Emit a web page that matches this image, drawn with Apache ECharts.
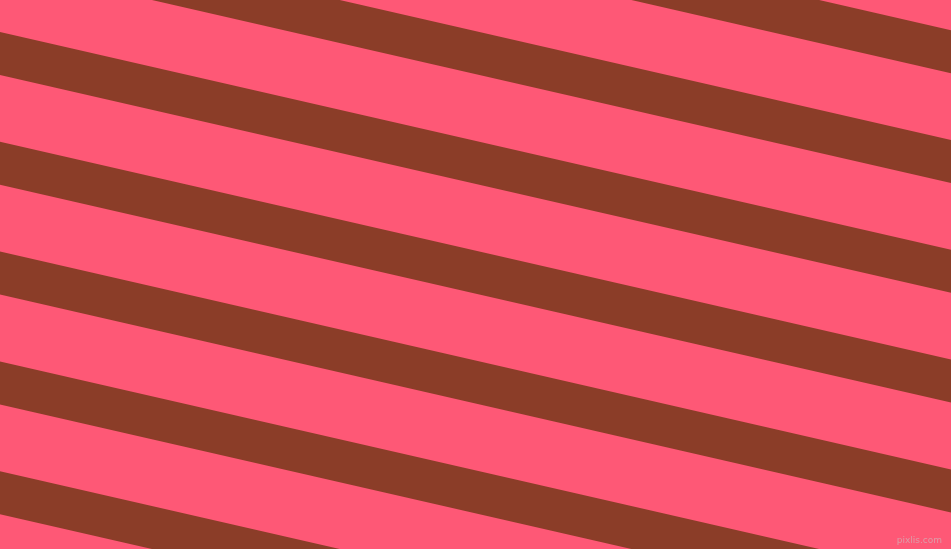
<!DOCTYPE html>
<html>
<head>
<meta charset="utf-8">
<script src="https://cdn.jsdelivr.net/npm/echarts@6/dist/echarts.min.js"></script>
<style>
  html, body { margin: 0; padding: 0; }
  #main { width: 951px; height: 549px; }
</style>
</head>
<body>
<div id="main"></div>
<script>
// upper edge of each brown stripe, read at the left (x=0) and right (x=951) borders
const stripeTopLeft = [-187.6, -77.8, 32, 141.8, 251.6, 361.4, 471.2];
const stripeTopRight = [30.2, 140, 249.8, 359.6, 469.4, 579.2, 689];
const stripeWidth = [43, 43, 43, 43, 43, 43, 43];

const data = stripeTopLeft.map((v, i) => [v, stripeTopRight[i], stripeWidth[i]]);

const chart = echarts.init(document.getElementById('main'), null, {renderer: 'canvas'});

chart.setOption({
    backgroundColor: '#FE5876',
    animation: false,
    grid: {left: 0, right: 0, top: 0, bottom: 0},
    xAxis: {type: 'value', min: 0, max: 951, show: false},
    yAxis: {type: 'value', min: 0, max: 549, inverse: true, show: false},
    series: [{
        type: 'custom',
        data: data,
        renderItem: (params, api) => {
            const l = api.value(0), r = api.value(1), w = api.value(2);
            const pts = [
                api.coord([0, l]),
                api.coord([951, r]),
                api.coord([951, r + w]),
                api.coord([0, l + w])
            ];
            return {
                type: 'polygon',
                shape: {points: pts},
                style: {fill: '#8B3D28'}
            };
        }
    }],
    graphic: [{
        type: 'text',
        right: 9,
        bottom: 4,
        style: {
            text: 'pixlis.com',
            font: '9px "DejaVu Sans"',
            fill: 'rgba(200,200,200,0.6)'
        }
    }]
});
</script>
</body>
</html>
